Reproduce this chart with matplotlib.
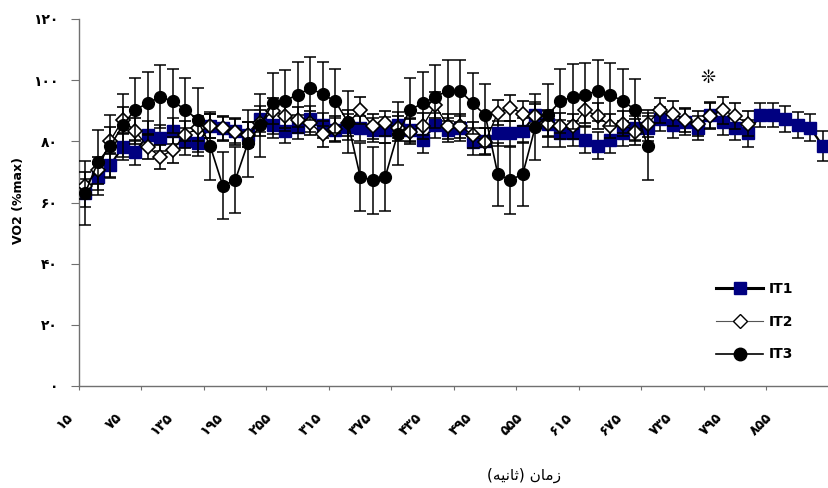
import numpy as np
import matplotlib
matplotlib.use('Agg')
import matplotlib.pyplot as plt
from matplotlib.lines import Line2D
from matplotlib.transforms import ScaledTranslation

plt.rcParams['font.family'] = ['DejaVu Sans']

# time in seconds, one sample every 15 s
times = [15 + 15 * i for i in range(60)]

it1 = [63.2, 68.4, 72.2, 78.2, 76.4, 82.2, 81.1, 83.4, 80.0, 79.3,
       85.0, 84.2, 83.4, 82.2, 87.3, 85.3, 83.5, 84.7, 87.3, 85.3,
       83.7, 84.7, 84.2, 83.7, 83.7, 85.3, 83.7, 80.4, 85.3, 83.7,
       84.2, 79.9, 80.1, 82.6, 82.6, 83.4, 88.6, 85.8, 82.6, 82.6,
       80.4, 78.5, 80.4, 82.6, 84.2, 84.2, 87.3, 85.3, 86.4, 84.4,
       88.6, 86.4, 84.4, 82.6, 88.6, 88.6, 87.3, 85.3, 84.4, 78.5]
it1_err = [4.6, 4.3, 4.1, 4.2, 4.0, 4.3, 4.1, 4.2, 4.4, 4.1,
           4.0, 3.9, 4.1, 4.0, 4.2, 4.3, 4.1, 4.0, 4.2, 4.1,
           4.0, 4.2, 4.1, 4.0, 4.1, 4.2, 4.0, 4.3, 4.1, 4.0,
           4.2, 4.3, 4.1, 4.2, 4.0, 4.1, 4.2, 4.0, 4.3, 4.1,
           4.2, 4.4, 4.2, 4.0, 4.1, 4.2, 4.0, 4.1, 4.2, 4.0,
           4.1, 4.2, 4.0, 4.3, 3.8, 3.9, 4.1, 4.3, 4.4, 4.9]

it2 = [65.5, 70.5, 80.2, 87.0, 83.3, 78.2, 74.9, 77.2, 82.2, 84.2,
       85.0, 84.2, 83.1, 82.2, 86.0, 90.0, 88.4, 86.9, 86.0, 82.3,
       84.1, 86.0, 90.1, 85.0, 85.9, 84.2, 83.2, 85.0, 91.8, 85.0,
       85.0, 82.0, 79.9, 89.3, 91.0, 89.1, 88.2, 85.8, 85.0, 85.0,
       90.2, 88.2, 85.0, 85.8, 83.1, 85.8, 90.2, 89.1, 86.9, 85.8,
       88.2, 90.2, 88.2, 85.8]
it2_err = [4.5, 4.3, 4.4, 4.2, 4.3, 4.1, 4.0, 4.2, 4.3, 4.1,
           4.0, 4.1, 4.2, 4.0, 4.3, 4.2, 4.1, 4.3, 4.0, 4.2,
           4.1, 4.2, 4.4, 4.1, 4.0, 4.2, 4.1, 4.3, 4.2, 4.1,
           4.0, 4.2, 4.3, 4.1, 4.2, 4.0, 4.1, 4.3, 4.2, 4.1,
           4.3, 4.2, 4.0, 4.1, 4.2, 4.3, 4.1, 4.2, 4.0, 4.1,
           4.2, 4.4, 4.2, 4.1]

it3 = [63.2, 73.1, 78.4, 85.3, 90.4, 92.4, 94.6, 93.1, 90.4, 87.0,
       78.4, 65.5, 67.3, 79.3, 85.3, 92.4, 93.3, 95.3, 97.3, 95.4,
       93.1, 86.4, 68.4, 67.3, 68.4, 82.5, 90.4, 92.4, 94.6, 96.5,
       96.5, 92.4, 88.6, 69.3, 67.3, 69.3, 84.7, 88.6, 93.1, 94.6,
       95.3, 96.5, 95.3, 93.1, 90.4, 78.4]
it3_err = [10.5, 10.6, 10.2, 10.3, 10.3, 10.3, 10.3, 10.4, 10.3, 10.4,
           11.2, 10.9, 10.7, 10.9, 10.3, 10.1, 10.0, 10.5, 10.3, 10.5,
           10.4, 10.1, 11.1, 10.9, 11.1, 10.3, 10.2, 10.4, 10.3, 10.0,
           10.1, 10.1, 10.3, 10.3, 10.9, 10.4, 10.9, 10.3, 10.4, 10.6,
           10.4, 10.0, 10.4, 10.4, 10.1, 11.0]

labels = ['IT1', 'IT2', 'IT3']
yticks = [0, 20, 40, 60, 80, 100, 120]
xlabel = '(\uFEEA\uFEF4\uFEE7\uFE8E\uFE9B) \uFEE5\uFE8E\uFEE3\uFEAF'  # زمان (ثانیه)


def fa(n):
    return str(n).translate(str.maketrans('0123456789', '۰۱۲۳۴۵۶۷۸۹'))


fig = plt.figure(figsize=(8.29, 4.88), dpi=100)
ax = fig.add_axes([79 / 829, 102 / 488, 750 / 829, 367 / 488])

navy = '#000080'
common = dict(ecolor='black', elinewidth=1.1, capsize=4.5, capthick=1.1)
ax.errorbar(np.arange(len(it1)), it1, yerr=it1_err, color='black', lw=1.6,
            marker='s', ms=8.5, mfc=navy, mec=navy, zorder=2, **common)
ax.errorbar(np.arange(len(it2)), it2, yerr=it2_err, color='black', lw=1.0,
            marker='D', ms=7.5, mfc='white', mec='black', mew=1.2, zorder=3, **common)
ax.errorbar(np.arange(len(it3)), it3, yerr=it3_err, color='black', lw=1.2,
            marker='o', ms=8.5, mfc='black', mec='black', zorder=4, **common)

ax.text(49.8, 100.6, '\u274A', ha='center', va='center', fontsize=13)

ax.set_xlim(-0.5, -0.5 + 750 / 12.6)
ax.set_ylim(0, 120)

for s in ['top', 'right']:
    ax.spines[s].set_visible(False)
for s in ['left', 'bottom']:
    ax.spines[s].set_color('#707070')
    ax.spines[s].set_linewidth(1.0)

ax.set_yticks(yticks)
ax.set_yticklabels([fa(v) for v in yticks], fontweight='bold', fontsize=10)
ax.tick_params(axis='y', direction='out', length=6, color='#707070', pad=9)

# tick marks between categories, labels every fourth category
ax.set_xticks(np.arange(-0.5, 60, 5))
ax.set_xticklabels([])
ax.tick_params(axis='x', which='major', direction='out', length=3, color='#707070')
ax.set_xticks(np.arange(0, 60, 4), minor=True)
ax.set_xticklabels([fa(t) for t in times[::4]], minor=True, rotation=45,
                   ha='right', va='center', rotation_mode='anchor',
                   fontweight='bold', fontsize=10)
ax.tick_params(axis='x', which='minor', length=0, pad=21)
for lab in ax.get_xticklabels(minor=True):
    lab.set_transform(lab.get_transform() + ScaledTranslation(-0.15, 0, fig.dpi_scale_trans))

fig.text(19 / 829, 1 - 200 / 488, 'VO2 (%max)', rotation=90, ha='center', va='center',
         fontweight='bold', fontsize=9)
fig.text(524 / 829, 1 - 475 / 488, xlabel, ha='center', va='center', fontsize=11)

handles = [Line2D([], [], color='black', lw=2.2, marker='s', ms=9, mfc=navy, mec=navy),
           Line2D([], [], color='#555555', lw=0.8, marker='D', ms=7, mfc='white', mec='black'),
           Line2D([], [], color='black', lw=1.2, marker='o', ms=9, mfc='black', mec='black')]
ax.legend(handles, labels, loc='upper left', bbox_to_anchor=(716 / 829, 1 - 282 / 488),
          bbox_transform=fig.transFigure, frameon=False, handlelength=3.4,
          labelspacing=1.35, handletextpad=0.4, borderpad=0, borderaxespad=0,
          prop={'weight': 'bold', 'size': 10})

fig.savefig('out.png', dpi=100)
